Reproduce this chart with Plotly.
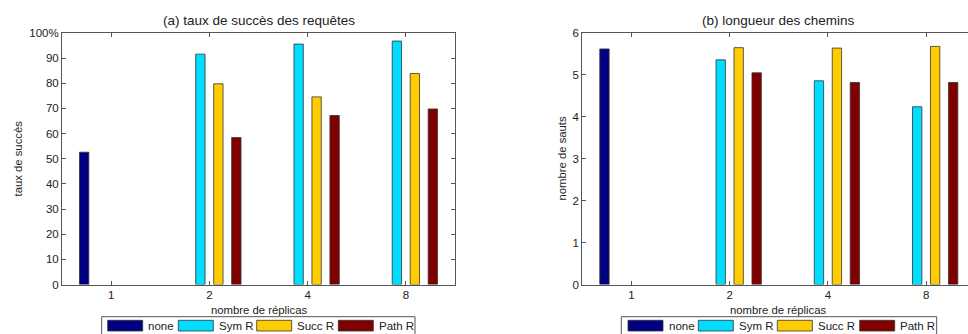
import plotly.graph_objects as go

# ---------------- data ----------------
groups = ["1", "2", "4", "8"]
series_names = ["none", "Sym R", "Succ R", "Path R"]
series_colors = ["#000080", "#00DDFF", "#FFCC00", "#800000"]

# (a) taux de succès des requêtes (%)
succ_none = [52.6, None, None, None]
succ_sym = [None, 91.6, 95.6, 96.8]
succ_succ = [None, 79.8, 74.6, 83.9]
succ_path = [None, 58.4, 67.2, 69.8]

# (b) longueur des chemins (nombre de sauts)
hops_none = [5.62, None, None, None]
hops_sym = [None, 5.36, 4.86, 4.24]
hops_succ = [None, 5.65, 5.64, 5.68]
hops_path = [None, 5.05, 4.82, 4.82]

yticks_a = [0, 10, 20, 30, 40, 50, 60, 70, 80, 90, 100]
yticklabels_a = ["0", "10", "20", "30", "40", "50", "60", "70", "80", "90", "100%"]
yticks_b = [0, 1, 2, 3, 4, 5, 6]

# ---------------- layout helpers ----------------
W, H = 968, 334
FONT = "Liberation Sans, Arial, sans-serif"
TXT = "#222222"
AXC = "#555555"


def px(x):
    return x / W


def py(y):
    return 1 - y / H


xpos = [1, 2, 3, 4]
fig = go.Figure()

data_a = [succ_none, succ_sym, succ_succ, succ_path]
data_b = [hops_none, hops_sym, hops_succ, hops_path]

for name, col, vals in zip(series_names, series_colors, data_a):
    fig.add_trace(go.Bar(x=xpos, y=vals, name=name, marker_color=col,
                         marker_line=dict(color="#333333", width=0.8),
                         xaxis="x", yaxis="y", showlegend=False))
for name, col, vals in zip(series_names, series_colors, data_b):
    fig.add_trace(go.Bar(x=xpos, y=vals, name=name, marker_color=col,
                         marker_line=dict(color="#333333", width=0.8),
                         xaxis="x2", yaxis="y2", showlegend=False))

unit = (455 - 62) / 4.0  # px per category
ydom = [py(284.5), py(33)]

common_x = dict(tickvals=xpos, ticktext=groups, ticks="inside", ticklen=4,
                tickcolor=AXC, showline=True, linecolor=AXC, linewidth=1,
                mirror="ticks", showgrid=False, zeroline=False, automargin=False,
                tickfont=dict(family=FONT, size=11.5, color=TXT))
common_y = dict(ticks="inside", ticklen=4, tickcolor=AXC, showline=True,
                linecolor=AXC, linewidth=1, showgrid=False, zeroline=False,
                automargin=False,
                tickfont=dict(family=FONT, size=11.5, color=TXT))

fig.update_layout(
    width=W, height=H, autosize=False,
    margin=dict(l=0, r=0, t=0, b=0, pad=0, autoexpand=False),
    paper_bgcolor="white", plot_bgcolor="white",
    barmode="group", bargap=0.268, bargroupgap=0.48,
    showlegend=False,
    xaxis=dict(domain=[px(62), px(455)], range=[0.5, 4.5], anchor="y", **common_x),
    yaxis=dict(domain=ydom, range=[0, 100], tickvals=yticks_a, ticktext=yticklabels_a,
               anchor="x", mirror="ticks", **common_y),
    xaxis2=dict(domain=[px(582.3), 1], range=[0.5, 0.5 + (W - 582.3) / unit],
                anchor="y2", **common_x),
    yaxis2=dict(domain=ydom, range=[0, 6], tickvals=yticks_b, anchor="x2",
                mirror=False, **common_y),
)

annotations = []
shapes = []


def add_text(x, y, text, size, anchor="center", angle=0):
    annotations.append(dict(x=px(x), y=py(y), xref="paper", yref="paper", text=text,
                            showarrow=False, xanchor=anchor, yanchor="middle",
                            textangle=angle,
                            font=dict(family=FONT, size=size, color=TXT)))


# titles & axis labels
add_text(258.5, 20, "(a) taux de succès des requêtes", 13.5)
add_text(778.0, 20, "(b) longueur des chemins", 13.5)
add_text(258.5, 309.5, "nombre de réplicas", 11.3)
add_text(778.0, 309.5, "nombre de réplicas", 11.3)
add_text(17, 158.5, "taux de succès", 11.3, angle=-90)
add_text(561, 158.5, "nombre de sauts", 11.3, angle=-90)

# manual legends (MATLAB-style wide swatches)
legend_specs = [
    dict(box=(101.7, 415.0), sw=[107.7, 178.3, 256.7, 338.3]),
    dict(box=(621.3, 936.7), sw=[628.0, 698.3, 777.3, 859.7]),
]
for spec in legend_specs:
    x0, x1 = spec["box"]
    shapes.append(dict(type="rect", xref="paper", yref="paper",
                       x0=px(x0), x1=px(x1), y0=py(338), y1=py(316.7),
                       line=dict(color=AXC, width=1), fillcolor="white"))
    for sx, name, col in zip(spec["sw"], series_names, series_colors):
        shapes.append(dict(type="rect", xref="paper", yref="paper",
                           x0=px(sx), x1=px(sx + 35), y0=py(331), y1=py(320.3),
                           line=dict(color="#333333", width=0.8), fillcolor=col))
        add_text(sx + 38.5, 326, name, 11.5, anchor="left")

fig.update_layout(annotations=annotations, shapes=shapes)
fig.write_html("out.html")
